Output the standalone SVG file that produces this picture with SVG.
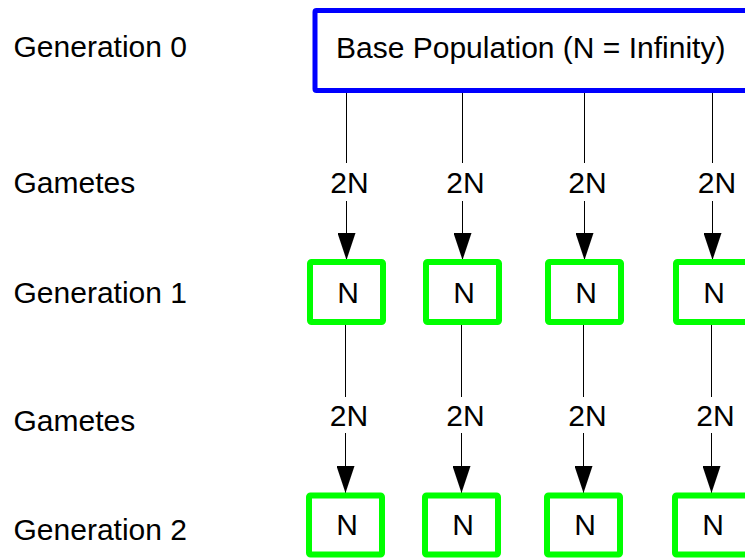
<svg xmlns="http://www.w3.org/2000/svg" width="745" height="558" viewBox="0 0 745 558">
<style>
text{font-family:"Liberation Sans",Arial,sans-serif;font-size:30px;fill:#000}
.blue{fill:#fff;stroke:#0000ff;stroke-width:5}
.green{fill:#fff;stroke:#00ff00;stroke-width:6}
.ln{stroke:#000;stroke-width:1;fill:none}
.mid{text-anchor:middle}
</style>
<defs>
<marker id="ah" markerUnits="userSpaceOnUse" markerWidth="27" markerHeight="18" refX="27" refY="9" orient="auto" viewBox="0 0 27 18">
<path d="M0,0 L27,9 L0,18 Z" fill="#000"/>
</marker>
</defs>
<rect width="745" height="558" fill="#fff"/>
<g id="labels">
<text x="13.5" y="57">Generation 0</text>
<text x="13.5" y="193">Gametes</text>
<text x="13.5" y="303">Generation 1</text>
<text x="13.5" y="431">Gametes</text>
<text x="13.5" y="540">Generation 2</text>
</g>
<g id="base">
<rect class="blue" x="315" y="10.5" width="470" height="80" rx="1.5"/>
<text x="336" y="58">Base Population (N = Infinity)</text>
</g>
<g id="connectors">
<line class="ln" x1="346.5" y1="93" x2="346.5" y2="163"/>
<line class="ln" x1="462.5" y1="93" x2="462.5" y2="163"/>
<line class="ln" x1="584.5" y1="93" x2="584.5" y2="163"/>
<line class="ln" x1="712.5" y1="93" x2="712.5" y2="163"/>
<line class="ln" x1="346.5" y1="201" x2="346.5" y2="260" marker-end="url(#ah)"/>
<line class="ln" x1="462.5" y1="201" x2="462.5" y2="260" marker-end="url(#ah)"/>
<line class="ln" x1="584.5" y1="201" x2="584.5" y2="260" marker-end="url(#ah)"/>
<line class="ln" x1="712.5" y1="201" x2="712.5" y2="260" marker-end="url(#ah)"/>
<text x="349.5" y="193" class="mid">2N</text>
<text x="465.5" y="193" class="mid">2N</text>
<text x="587.5" y="193" class="mid">2N</text>
<text x="717" y="193" class="mid">2N</text>
<line class="ln" x1="345.5" y1="325" x2="345.5" y2="397"/>
<line class="ln" x1="461.5" y1="325" x2="461.5" y2="397"/>
<line class="ln" x1="583.5" y1="325" x2="583.5" y2="397"/>
<line class="ln" x1="711.5" y1="325" x2="711.5" y2="397"/>
<line class="ln" x1="345.5" y1="433" x2="345.5" y2="493" marker-end="url(#ah)"/>
<line class="ln" x1="461.5" y1="433" x2="461.5" y2="493" marker-end="url(#ah)"/>
<line class="ln" x1="583.5" y1="433" x2="583.5" y2="493" marker-end="url(#ah)"/>
<line class="ln" x1="711.5" y1="433" x2="711.5" y2="493" marker-end="url(#ah)"/>
<text x="349" y="426" class="mid">2N</text>
<text x="465.5" y="426" class="mid">2N</text>
<text x="587.5" y="426" class="mid">2N</text>
<text x="715.5" y="426" class="mid">2N</text>
</g>
<g id="g1n1"><rect class="green" x="310" y="262" width="73" height="60" rx="1.5"/><text x="348" y="303" class="mid">N</text></g>
<g id="g1n2"><rect class="green" x="426" y="262" width="73" height="60" rx="1.5"/><text x="464" y="303" class="mid">N</text></g>
<g id="g1n3"><rect class="green" x="548" y="262" width="73" height="60" rx="1.5"/><text x="586" y="303" class="mid">N</text></g>
<g id="g1n4"><rect class="green" x="676" y="262" width="73" height="60" rx="1.5"/><text x="714" y="303" class="mid">N</text></g>
<g id="g2n1"><rect class="green" x="309" y="495.5" width="73" height="59" rx="1.5"/><text x="347" y="535" class="mid">N</text></g>
<g id="g2n2"><rect class="green" x="425" y="495.5" width="73" height="59" rx="1.5"/><text x="463" y="535" class="mid">N</text></g>
<g id="g2n3"><rect class="green" x="547" y="495.5" width="73" height="59" rx="1.5"/><text x="585" y="535" class="mid">N</text></g>
<g id="g2n4"><rect class="green" x="675" y="495.5" width="73" height="59" rx="1.5"/><text x="713" y="535" class="mid">N</text></g>
</svg>
